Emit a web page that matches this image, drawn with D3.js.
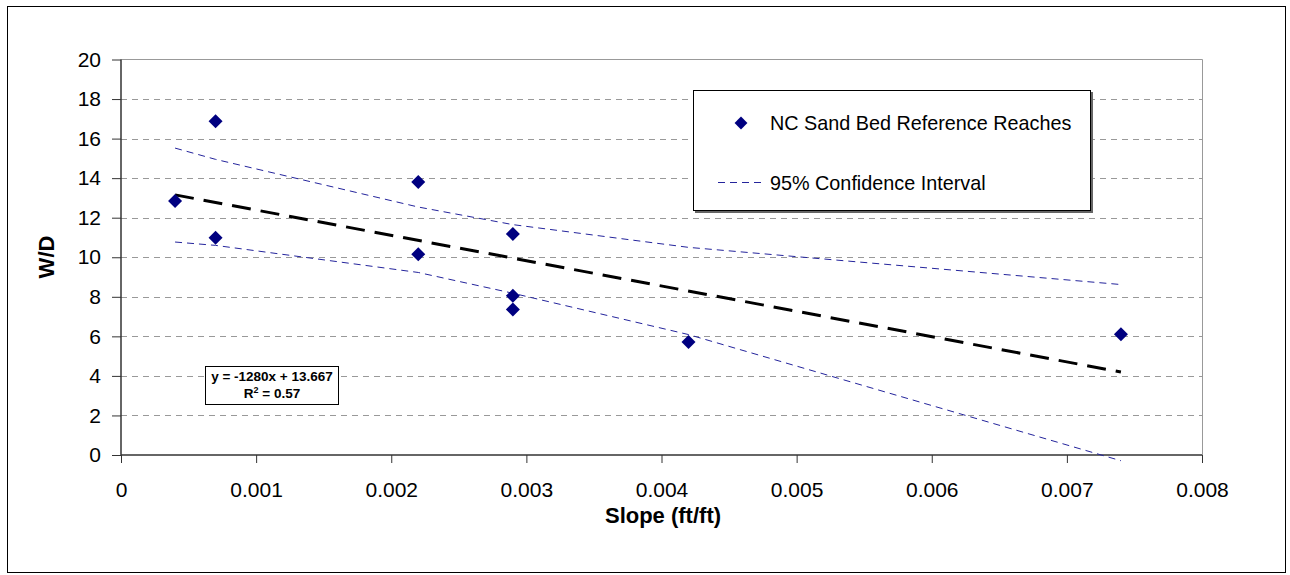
<!DOCTYPE html>
<html>
<head>
<meta charset="utf-8">
<script src="https://cdn.jsdelivr.net/npm/d3@7"></script>
<style>
  body { margin: 0; background: #fff; }
  text { font-family: "Liberation Sans", Arial, sans-serif; }
</style>
</head>
<body>
<div id="chart"></div>
<script>
// observed reaches
let slopes = [0.0004, 0.0007, 0.0007, 0.0022, 0.0022, 0.0029, 0.0029, 0.0029, 0.0042, 0.0074];
let wdValues = [12.85, 16.88, 10.99, 13.8, 10.15, 11.18, 8.05, 7.36, 5.71, 6.11];

// confidence band, read at the data slopes
let ciSlopes = [0.0004, 0.0007, 0.0022, 0.0029, 0.0042, 0.0074];
let ciUpper = [15.52, 14.95, 12.54, 11.65, 10.5, 8.62];
let ciLower = [10.77, 10.6, 9.23, 8.18, 6.09, -0.29];

// linear fit
let fitSlope = -1280;
let fitIntercept = 13.667;
let fitR2 = 0.57;

let xTicks = [0, 0.001, 0.002, 0.003, 0.004, 0.005, 0.006, 0.007, 0.008];
let yTicks = [0, 2, 4, 6, 8, 10, 12, 14, 16, 18, 20];

let W = 1290, H = 575;
let plot = {left: 121, right: 1202, top: 59.5, bottom: 455};

let svg = d3.select("#chart").append("svg")
    .attr("width", W)
    .attr("height", H);

// outer frame
svg.append("rect")
    .attr("x", 7.5).attr("y", 6.5)
    .attr("width", 1278).attr("height", 566)
    .attr("fill", "#fff")
    .attr("stroke", "#000")
    .attr("stroke-width", 1);

let x = d3.scaleLinear().domain([0, 0.008]).range([plot.left, plot.right]);
let y = d3.scaleLinear().domain([0, 20]).range([plot.bottom, plot.top]);

// gridlines
svg.append("g")
    .selectAll("line")
    .data(yTicks.filter(d => d > 0 && d < 20))
    .enter().append("line")
    .attr("x1", plot.left).attr("x2", plot.right)
    .attr("y1", d => Math.round(y(d)) + 0.5)
    .attr("y2", d => Math.round(y(d)) + 0.5)
    .attr("stroke", "#999")
    .attr("stroke-width", 1)
    .attr("stroke-dasharray", "6,5");

// plot border top/right
svg.append("path")
    .attr("d", "M" + plot.left + "," + plot.top + "H" + (plot.right + 0.5) + "V" + plot.bottom)
    .attr("fill", "none")
    .attr("stroke", "#999")
    .attr("stroke-width", 1);

// axes
let xAxis = svg.append("g")
    .attr("transform", "translate(0," + plot.bottom + ")")
    .call(d3.axisBottom(x).tickValues(xTicks).tickSize(8).tickPadding(19)
        .tickFormat(d => d === 0 ? "0" : d3.format(".3f")(d)));
let yAxis = svg.append("g")
    .attr("transform", "translate(" + plot.left + ",0)")
    .call(d3.axisLeft(y).tickValues(yTicks).tickSize(9).tickPadding(11));

[xAxis, yAxis].forEach(function(a) {
    a.select(".domain").attr("stroke", "#333").attr("stroke-width", 1.5);
    a.selectAll(".tick line").attr("stroke", "#333");
    a.selectAll(".tick text")
        .attr("fill", "#000")
        .style("font-size", "21px")
        .style("font-family", "'Liberation Sans', Arial, sans-serif");
});
xAxis.select(".domain").attr("d", "M" + plot.left + ",0H" + plot.right);
yAxis.select(".domain").attr("d", "M0," + plot.top + "V" + plot.bottom);

// confidence interval lines
let ciLine = d3.line().x(d => x(d[0])).y(d => y(d[1]));
[ciUpper, ciLower].forEach(function(arr) {
    svg.append("path")
        .datum(ciSlopes.map((s, i) => [s, arr[i]]))
        .attr("d", ciLine)
        .attr("fill", "none")
        .attr("stroke", "#24249c")
        .attr("stroke-width", 1)
        .attr("stroke-dasharray", "7,5");
});

// trend line over the data range
let xr = d3.extent(slopes);
svg.append("path")
    .datum(xr.map(s => [s, fitIntercept + fitSlope * s]))
    .attr("d", ciLine)
    .attr("fill", "none")
    .attr("stroke", "#000")
    .attr("stroke-width", 3)
    .attr("stroke-dasharray", "19,10");

// points
let diamond = "M0,-7L7,0L0,7L-7,0Z";
svg.append("g")
    .selectAll("path")
    .data(slopes.map((s, i) => [s, wdValues[i]]))
    .enter().append("path")
    .attr("d", diamond)
    .attr("transform", d => "translate(" + x(d[0]) + "," + y(d[1]) + ")")
    .attr("fill", "#000080");

// equation box
let eq = svg.append("g");
eq.append("rect")
    .attr("x", 205.5).attr("y", 366.5)
    .attr("width", 133).attr("height", 38)
    .attr("fill", "#fff")
    .attr("stroke", "#000")
    .attr("stroke-width", 1);
eq.append("text")
    .attr("x", 272).attr("y", 381)
    .attr("text-anchor", "middle")
    .style("font-size", "13.5px").style("font-weight", "bold")
    .text("y = " + fitSlope + "x + " + fitIntercept);
let r2 = eq.append("text")
    .attr("x", 272).attr("y", 398)
    .attr("text-anchor", "middle")
    .style("font-size", "13.5px").style("font-weight", "bold");
r2.append("tspan").text("R");
r2.append("tspan").attr("dy", -5).style("font-size", "9px").text("2");
r2.append("tspan").attr("dy", 5).text(" = " + fitR2);

// legend
let lg = svg.append("g");
lg.append("rect")
    .attr("x", 695).attr("y", 92)
    .attr("width", 398).attr("height", 121)
    .attr("fill", "#666");
lg.append("rect")
    .attr("x", 693.5).attr("y", 90.5)
    .attr("width", 397).attr("height", 120)
    .attr("fill", "#fff")
    .attr("stroke", "#000")
    .attr("stroke-width", 1);
lg.append("path")
    .attr("d", diamond)
    .attr("transform", "translate(741,123) scale(0.92)")
    .attr("fill", "#000080");
lg.append("text")
    .attr("x", 770).attr("y", 130)
    .style("font-size", "19.8px")
    .text("NC Sand Bed Reference Reaches");
lg.append("line")
    .attr("x1", 718).attr("x2", 766)
    .attr("y1", 182.5).attr("y2", 182.5)
    .attr("stroke", "#24249c")
    .attr("stroke-width", 1)
    .attr("stroke-dasharray", "7,5");
lg.append("text")
    .attr("x", 770).attr("y", 189.5)
    .style("font-size", "19.8px")
    .text("95% Confidence Interval");

// axis titles
svg.append("text")
    .attr("x", 663).attr("y", 523)
    .attr("text-anchor", "middle")
    .style("font-size", "22px").style("font-weight", "bold")
    .text("Slope (ft/ft)");
svg.append("text")
    .attr("transform", "translate(54,257) rotate(-90)")
    .attr("text-anchor", "middle")
    .style("font-size", "22px").style("font-weight", "bold")
    .text("W/D");
</script>
</body>
</html>
